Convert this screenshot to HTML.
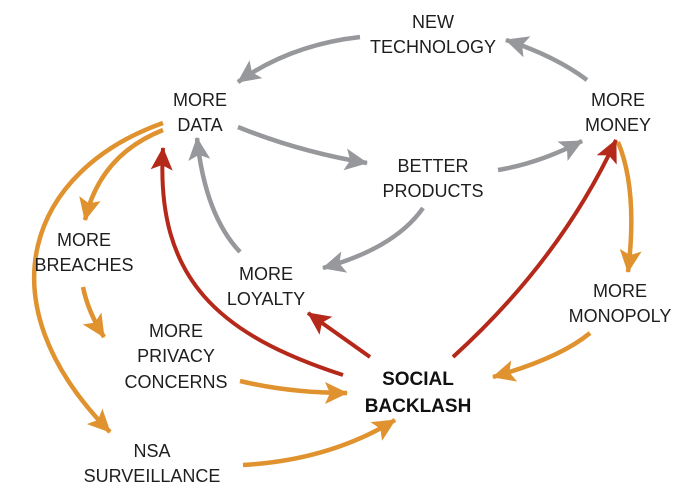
<!DOCTYPE html>
<html><head><meta charset="utf-8"><style>
html,body{margin:0;padding:0;background:#fff;}
svg{display:block;}
text{font-family:"Liberation Sans",sans-serif;font-size:18px;fill:#1e1e1e;text-anchor:middle;}
.b{font-weight:bold;font-size:19px;fill:#111;}
</style></head><body>
<svg width="700" height="499" viewBox="0 0 700 499" xmlns="http://www.w3.org/2000/svg">
<defs>
<marker id="g" markerUnits="userSpaceOnUse" viewBox="0 0 24 22" markerWidth="24" markerHeight="22" refX="22" refY="11" orient="auto"><path d="M0,0 L23,11 L0,22 L5,11 Z" fill="#97989b"/></marker>
<marker id="o" markerUnits="userSpaceOnUse" viewBox="0 0 24 22" markerWidth="24" markerHeight="22" refX="22" refY="11" orient="auto"><path d="M0,0 L23,11 L0,22 L5,11 Z" fill="#e0922f"/></marker>
<marker id="r" markerUnits="userSpaceOnUse" viewBox="0 0 24 22" markerWidth="24" markerHeight="22" refX="22" refY="11" orient="auto"><path d="M0,0 L23,11 L0,22 L5,11 Z" fill="#b5291a"/></marker>
</defs>
<g fill="none" stroke-width="4.5">
<g stroke="#97989b">
<path d="M587,80 Q555,56 506,40" marker-end="url(#g)"/>
<path d="M360,37 Q290,45 238,82" marker-end="url(#g)"/>
<path d="M238,127 Q300,152 367,163" marker-end="url(#g)"/>
<path d="M498,170 Q540,163 582,141" marker-end="url(#g)"/>
<path d="M423,208 Q395,248 323,268" marker-end="url(#g)"/>
<path d="M240,252 Q205,215 197,138" marker-end="url(#g)"/>
</g>
<g stroke="#e0922f">
<path d="M163,130 Q100,155 85,220" marker-end="url(#o)"/>
<path d="M163,123 C30,170 -20,300 110,432" marker-end="url(#o)"/>
<path d="M83,287 Q88,312 104,337" marker-end="url(#o)"/>
<path d="M240,381 Q290,393 347,393" marker-end="url(#o)"/>
<path d="M590,333 Q560,358 493,377" marker-end="url(#o)"/>
<path d="M243,465 Q330,460 395,420" marker-end="url(#o)"/>
<path d="M618,142 Q638,190 628,272" marker-end="url(#o)"/>
</g>
<g stroke="#b5291a" stroke-width="4">
<path d="M343,375 C220,335 155,280 163,148" marker-end="url(#r)"/>
<path d="M370,357 L308,313" marker-end="url(#r)"/>
<path d="M453,357 Q560,260 616,140" marker-end="url(#r)"/>
</g>
</g>
<text x="433" y="28">NEW</text><text x="433" y="53">TECHNOLOGY</text>
<text x="200" y="106">MORE</text><text x="200" y="131">DATA</text>
<text x="618" y="106">MORE</text><text x="618" y="131">MONEY</text>
<text x="433" y="172">BETTER</text><text x="433" y="197">PRODUCTS</text>
<text x="84" y="246">MORE</text><text x="84" y="271">BREACHES</text>
<text x="266" y="280">MORE</text><text x="266" y="305">LOYALTY</text>
<text x="620" y="297">MORE</text><text x="620" y="322">MONOPOLY</text>
<text x="176" y="337">MORE</text><text x="176" y="362">PRIVACY</text><text x="176" y="388">CONCERNS</text>
<text class="b" x="418" y="385">SOCIAL</text><text class="b" x="418" y="412">BACKLASH</text>
<text x="152" y="457">NSA</text><text x="152" y="482">SURVEILLANCE</text>
</svg>
</body></html>
